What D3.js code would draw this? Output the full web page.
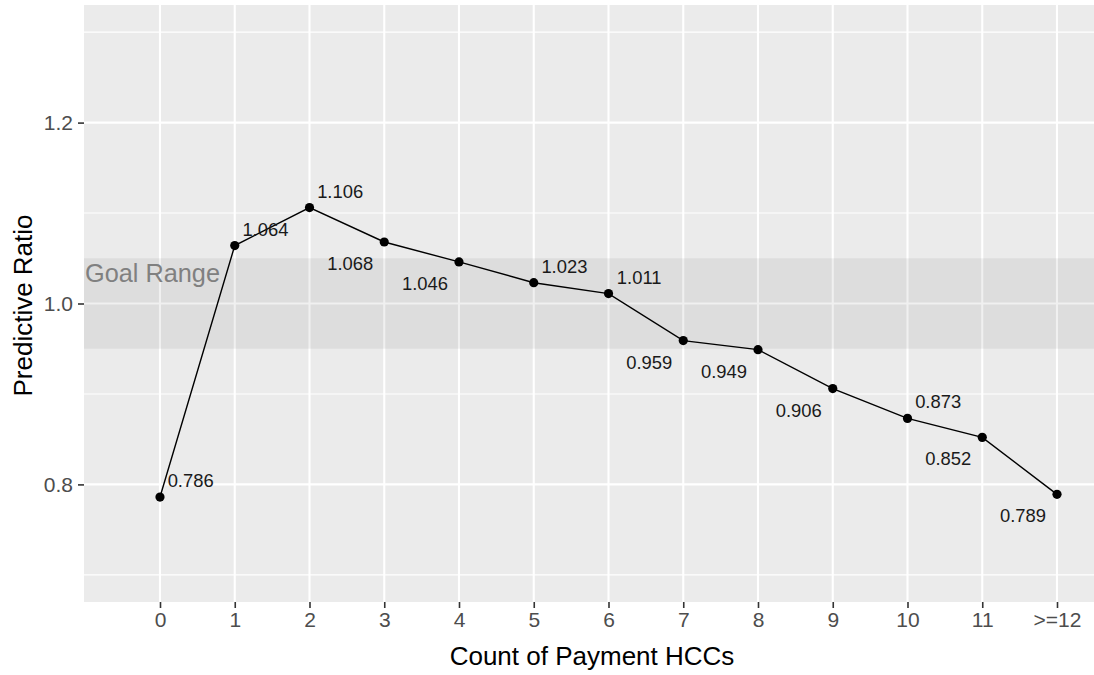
<!DOCTYPE html>
<html>
<head>
<meta charset="utf-8">
<script src="https://cdn.jsdelivr.net/npm/d3@7"></script>
<style>
  html, body { margin: 0; padding: 0; background: #fff; }
  svg { display: block; font-family: "Liberation Sans", Arial, sans-serif; }
</style>
</head>
<body>
<svg id="chart" width="1094" height="675"></svg>
<script>
// ---- data ----
const categories = ["0","1","2","3","4","5","6","7","8","9","10","11",">=12"];
const ratios = [0.786, 1.064, 1.106, 1.068, 1.046, 1.023, 1.011, 0.959, 0.949, 0.906, 0.873, 0.852, 0.789];
const labelSide = ["above","above","above","below","below","above","above","below","below","below","above","below","below"];
const yTicks = [0.8, 1.0, 1.2];
const yMinorTicks = [0.7, 0.9, 1.1, 1.3];
const goalRange = [0.95, 1.05];
const yDomain = [0.67, 1.33];

// ---- layout ----
const W = 1094, H = 675;
const panel = { left: 84, right: 1094, top: 5, bottom: 602 };

const svg = d3.select("#chart");

const x = d3.scalePoint().domain(categories).range([160, 1057]);
const y = d3.scaleLinear().domain(yDomain).range([panel.bottom, panel.top]);

// panel background
svg.append("rect")
  .attr("x", panel.left).attr("y", panel.top)
  .attr("width", panel.right - panel.left).attr("height", panel.bottom - panel.top)
  .attr("fill", "#EBEBEB");

// minor horizontal grid
svg.append("g").selectAll("line").data(yMinorTicks).join("line")
  .attr("x1", panel.left).attr("x2", panel.right)
  .attr("y1", d => y(d)).attr("y2", d => y(d))
  .attr("stroke", "#fff").attr("stroke-width", 1.1);

// major horizontal grid
svg.append("g").selectAll("line").data(yTicks).join("line")
  .attr("x1", panel.left).attr("x2", panel.right)
  .attr("y1", d => y(d)).attr("y2", d => y(d))
  .attr("stroke", "#fff").attr("stroke-width", 2.1);

// vertical grid
svg.append("g").selectAll("line").data(categories).join("line")
  .attr("x1", d => x(d)).attr("x2", d => x(d))
  .attr("y1", panel.top).attr("y2", panel.bottom)
  .attr("stroke", "#fff").attr("stroke-width", 2.1);

// goal range band
svg.append("rect")
  .attr("x", panel.left).attr("width", panel.right - panel.left)
  .attr("y", y(goalRange[1])).attr("height", y(goalRange[0]) - y(goalRange[1]))
  .attr("fill", "#000").attr("fill-opacity", 0.06);

svg.append("text")
  .attr("x", panel.left + 1).attr("y", y(goalRange[1]) + 23.5)
  .attr("font-size", 25.3).attr("fill", "#808080")
  .text("Goal Range");

// axes
const yAxis = d3.axisLeft(y).tickValues(yTicks).tickFormat(d3.format(".1f")).tickSize(6).tickPadding(5);
const gy = svg.append("g").attr("transform", `translate(${panel.left},0)`).call(yAxis);
gy.select(".domain").remove();
gy.selectAll(".tick line").attr("stroke", "#333").attr("stroke-width", 1.6);
gy.selectAll(".tick text").attr("fill", "#4D4D4D").attr("font-size", 21)
  .attr("font-family", "Liberation Sans, Arial, sans-serif");

const xAxis = d3.axisBottom(x).tickSize(6).tickPadding(4);
const gx = svg.append("g").attr("transform", `translate(0,${panel.bottom})`).call(xAxis);
gx.select(".domain").remove();
gx.selectAll(".tick line").attr("stroke", "#333").attr("stroke-width", 1.6);
gx.selectAll(".tick text").attr("fill", "#4D4D4D").attr("font-size", 21)
  .attr("font-family", "Liberation Sans, Arial, sans-serif");

// line
const line = d3.line().x((d, i) => x(categories[i])).y(d => y(d));
svg.append("path").datum(ratios)
  .attr("d", line).attr("fill", "none").attr("stroke", "#000").attr("stroke-width", 1.4);

// points
svg.append("g").selectAll("circle").data(ratios).join("circle")
  .attr("cx", (d, i) => x(categories[i])).attr("cy", d => y(d))
  .attr("r", 4.6).attr("fill", "#000");

// value labels
const step = x.step();
svg.append("g").selectAll("text").data(ratios).join("text")
  .attr("x", (d, i) => x(categories[i]) + (labelSide[i] === "above" ? 0.41 * step : -0.455 * step))
  .attr("y", (d, i) => y(d) + (labelSide[i] === "above" ? -10 : 28))
  .attr("text-anchor", "middle")
  .attr("font-size", 18.4).attr("fill", "#1a1a1a")
  .text(d => d3.format(".3f")(d));

// axis titles
svg.append("text")
  .attr("x", 592).attr("y", 665)
  .attr("text-anchor", "middle").attr("font-size", 26).attr("fill", "#000")
  .text("Count of Payment HCCs");

svg.append("text")
  .attr("transform", `translate(32,${(panel.top + panel.bottom) / 2 + 2}) rotate(-90)`)
  .attr("text-anchor", "middle").attr("font-size", 26).attr("fill", "#000")
  .text("Predictive Ratio");
</script>
</body>
</html>
